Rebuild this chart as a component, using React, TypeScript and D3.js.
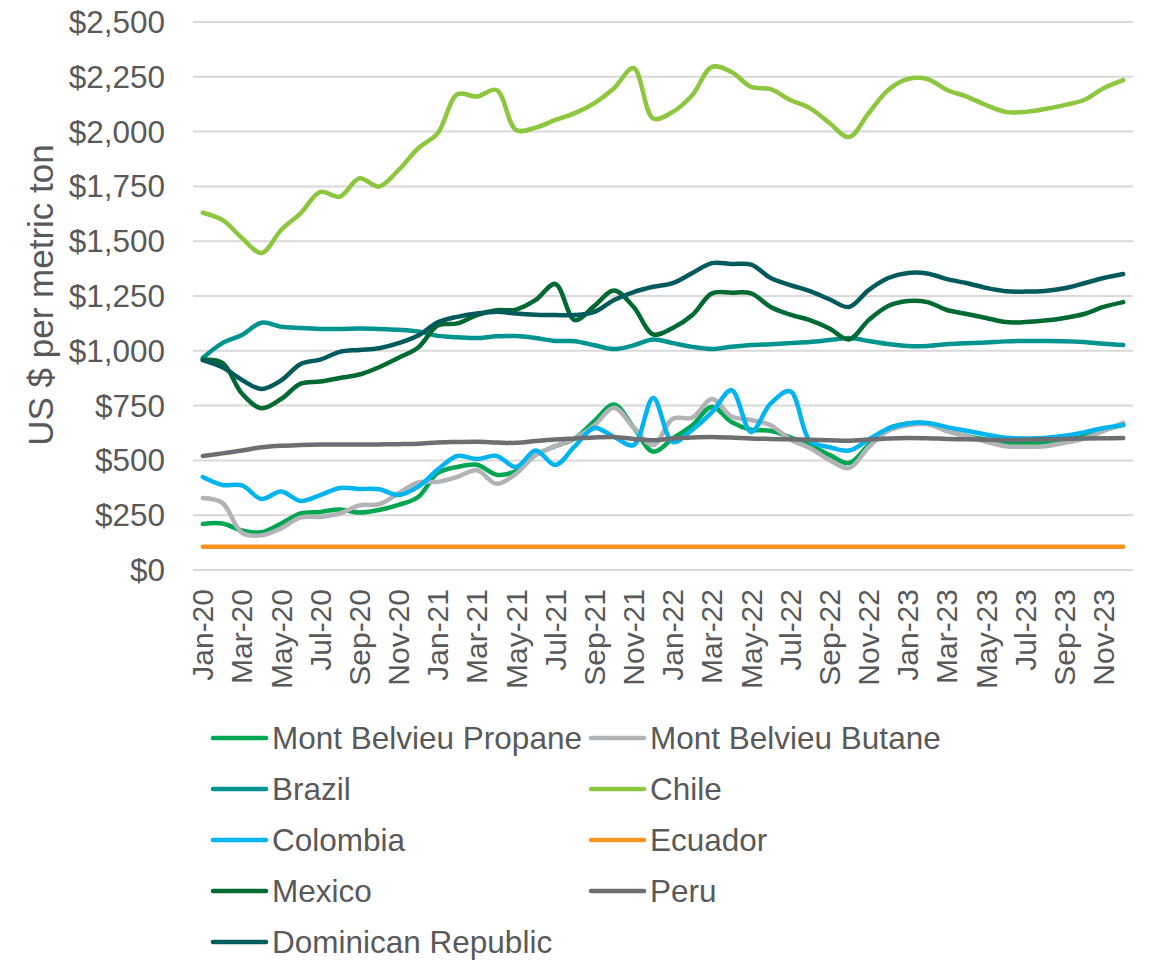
import React from 'react';
import * as d3 from 'd3';

const months = [
  'Jan-20','Feb-20','Mar-20','Apr-20','May-20','Jun-20','Jul-20','Aug-20','Sep-20','Oct-20','Nov-20','Dec-20',
  'Jan-21','Feb-21','Mar-21','Apr-21','May-21','Jun-21','Jul-21','Aug-21','Sep-21','Oct-21','Nov-21','Dec-21',
  'Jan-22','Feb-22','Mar-22','Apr-22','May-22','Jun-22','Jul-22','Aug-22','Sep-22','Oct-22','Nov-22','Dec-22',
  'Jan-23','Feb-23','Mar-23','Apr-23','May-23','Jun-23','Jul-23','Aug-23','Sep-23','Oct-23','Nov-23','Dec-23',
];

const yTicks = [0, 250, 500, 750, 1000, 1250, 1500, 1750, 2000, 2250, 2500];

const propane = [210,212,180,172,212,258,265,276,262,274,297,333,443,470,480,435,452,525,565,600,680,755,650,540,600,660,745,675,640,635,605,570,525,488,570,645,668,668,635,612,595,580,578,580,592,610,638,662];
const butane = [328,306,170,158,190,240,242,258,295,300,350,400,402,425,455,393,440,525,565,600,660,740,650,570,690,695,780,700,684,660,595,557,502,465,560,635,660,665,635,610,585,565,562,565,580,600,635,671];
const brazil = [967,1035,1072,1128,1110,1104,1100,1100,1102,1100,1096,1088,1068,1062,1058,1066,1067,1058,1045,1044,1025,1008,1025,1052,1035,1018,1008,1018,1026,1030,1035,1040,1049,1058,1045,1031,1022,1022,1030,1034,1038,1043,1045,1045,1044,1040,1032,1026];
const chile = [1630,1597,1515,1446,1551,1628,1725,1703,1787,1749,1825,1924,1993,2170,2160,2190,2007,2018,2053,2084,2130,2198,2290,2060,2090,2167,2295,2272,2204,2194,2144,2107,2039,1975,2084,2190,2240,2240,2190,2160,2121,2090,2090,2103,2121,2144,2198,2235];
const colombia = [424,388,386,324,358,315,342,374,370,368,342,380,458,520,506,520,470,545,479,565,648,607,570,785,584,640,720,820,630,760,815,590,560,545,595,645,668,671,652,635,618,603,600,602,612,628,648,662];
const ecuador = [106,106,106,106,106,106,106,106,106,106,106,106,106,106,106,106,106,106,106,106,106,106,106,106,106,106,106,106,106,106,106,106,106,106,106,106,106,106,106,106,106,106,106,106,106,106,106,106];
const mexico = [958,945,805,738,780,850,860,876,892,925,968,1015,1115,1125,1163,1185,1188,1232,1305,1140,1205,1275,1200,1075,1104,1163,1262,1265,1262,1200,1165,1140,1102,1052,1140,1204,1227,1222,1186,1168,1150,1131,1131,1138,1150,1168,1200,1222];
const peru = [520,532,545,560,567,570,572,573,573,573,574,576,582,584,585,582,580,588,595,600,605,607,598,592,600,605,607,604,600,598,596,594,592,590,595,600,602,601,598,596,594,593,594,596,598,600,601,602];
const dominican = [958,925,867,826,865,940,960,995,1004,1012,1035,1070,1130,1155,1170,1178,1170,1165,1163,1163,1178,1232,1268,1292,1309,1355,1400,1396,1393,1332,1300,1272,1235,1200,1277,1332,1355,1353,1327,1309,1287,1272,1270,1273,1285,1308,1332,1350];

const seriesNames = ['Mont Belvieu Propane','Mont Belvieu Butane','Brazil','Chile','Colombia','Ecuador','Mexico','Peru','Dominican Republic'];
const seriesColors = ['#00A651','#B1B3B6','#009490','#8DC63F','#00B5EF','#F7941D','#006A32','#6D6E71','#005A5B'];
const seriesValues = [propane, butane, brazil, chile, colombia, ecuador, mexico, peru, dominican];

const FONT = '"Liberation Sans", Arial, sans-serif';
const TEXT = '#595959';

export default function App() {
  const W = 1150, H = 960;
  const left = 193, right = 1133, top = 22, bottom = 570;
  const x = d3.scaleBand<string>().domain(months).range([left, right]);
  const cx = (m: string) => (x(m) as number) + x.bandwidth() / 2;
  const y = d3.scaleLinear().domain([0, 2500]).range([bottom, top]);
  const fmt = (v: number) => '$' + d3.format(',')(v);

  const line = d3.line<number>()
    .x((_, i) => cx(months[i]))
    .y(d => y(d))
    .curve(d3.curveCatmullRom.alpha(0.5));

  const series = seriesNames.map((n, i) => ({ name: n, color: seriesColors[i], values: seriesValues[i] }));

  const legX = [213, 591];
  const legY0 = 738, legDY = 51;

  return (
    <svg width={W} height={H} style={{ position: 'absolute', left: 0, top: 0, background: '#fff' }} fontFamily={FONT}>
      <rect width={W} height={H} fill="#fff" />
      {yTicks.map(t => (
        <g key={t}>
          <line x1={left} x2={right} y1={y(t)} y2={y(t)} stroke="#D9D9D9" strokeWidth={2} />
          <text x={165} y={y(t)} dy="0.35em" textAnchor="end" fontSize={31.5} fill={TEXT}>{fmt(t)}</text>
        </g>
      ))}
      <text transform={`translate(53,295) rotate(-90)`} textAnchor="middle" fontSize={35} fill={TEXT}>US $ per metric ton</text>
      {months.filter((_, i) => i % 2 === 0).map(m => (
        <text key={m} transform={`translate(${cx(m)},589) rotate(-90)`} dy="0.35em" textAnchor="end" fontSize={30} fill={TEXT}>{m}</text>
      ))}
      {series.map(s => (
        <path key={s.name} d={line(s.values) || ''} fill="none" stroke={s.color} strokeWidth={4.5} strokeLinecap="round" strokeLinejoin="round" />
      ))}
      {series.map((s, i) => {
        const col = i % 2, row = Math.floor(i / 2);
        const lx = legX[col], ly = legY0 + row * legDY;
        return (
          <g key={'leg' + s.name}>
            <line x1={lx} x2={lx + 53} y1={ly} y2={ly} stroke={s.color} strokeWidth={4.5} strokeLinecap="round" />
            <text x={lx + 59} y={ly} dy="0.35em" fontSize={31.5} fill={TEXT}>{s.name}</text>
          </g>
        );
      })}
    </svg>
  );
}
